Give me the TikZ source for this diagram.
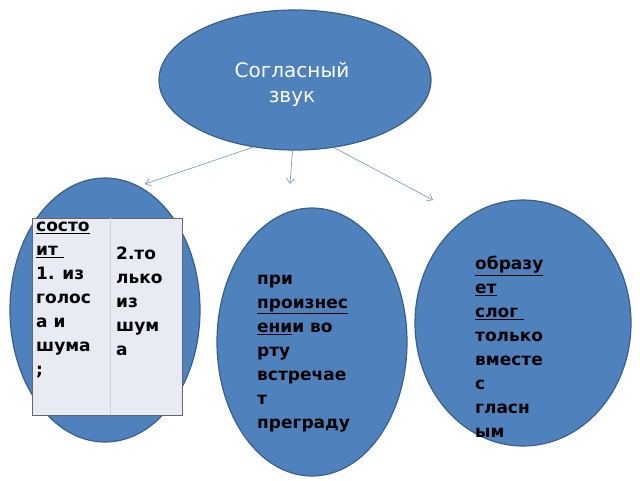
\documentclass[tikz,border=0pt]{standalone}
\usepackage{fontspec}
\setmainfont{DejaVu Sans}
\usetikzlibrary{shapes.geometric,arrows.meta}
\definecolor{oval}{HTML}{4F81BD}
\definecolor{ovalline}{HTML}{3A5F8C}
\definecolor{link}{HTML}{7E9FCC}
\definecolor{cell}{HTML}{E9EBF4}
\tikzset{
  bubble/.style={ellipse,fill=oval,draw=ovalline,line width=1.2pt,inner sep=0pt},
  link/.style={draw=link,line width=0.7pt,-{Straight Barb[length=5pt,width=8pt]}},
  words/.style={align=left,anchor=north west,inner sep=0pt,font=\fontsize{17}{24}\selectfont\bfseries}
}
\begin{document}
\begin{tikzpicture}[x=1pt,y=-1pt]
  \useasboundingbox (0,0) rectangle (640,480);
  % ovals
  \node[bubble,minimum width=272,minimum height=140] (top) at (295,80) {};
  \node[bubble,minimum width=190,minimum height=264] (left) at (105,310) {};
  \node[bubble,minimum width=190,minimum height=268] (mid) at (312,342) {};
  \node[bubble,minimum width=216,minimum height=246] (right) at (523,323) {};
  \node[text=white,align=center,font=\fontsize{20}{25}\selectfont] (title) at (292,84) {Согласный\\звук};
  % connectors
  \coordinate (endl) at (145,184);
  \coordinate (endm) at (290,184);
  \coordinate (endr) at (433,200);
  \draw[link] (top.238) -- (endl);
  \draw[link] (top.268) -- (endm);
  \draw[link] (top.300) -- (endr);
  % table
  \draw[draw=gray!80!black,fill=cell,line width=0.8pt] (32,218) rectangle (182,415);
  \draw[draw=gray!35,line width=0.6pt] (110,218) -- (110,415);
  \node[words] (colone) at (36,222) {\underline{состо}\\\underline{ит }\\1. из\\голос\\а и\\шума\\;};
  \node[words] (coltwo) at (116,247) {2.то\\лько\\из\\шум\\а};
  % texts
  \node[words] (midtext) at (257,275) {при\\\underline{произнес}\\\underline{ени}и во\\рту\\встречае\\т\\преграду};
  \node[words] (righttext) at (475,256) {\underline{образу}\\\underline{ет}\\\underline{слог }\\только\\вместе\\с\\гласн\\ым};
\end{tikzpicture}
\end{document}
